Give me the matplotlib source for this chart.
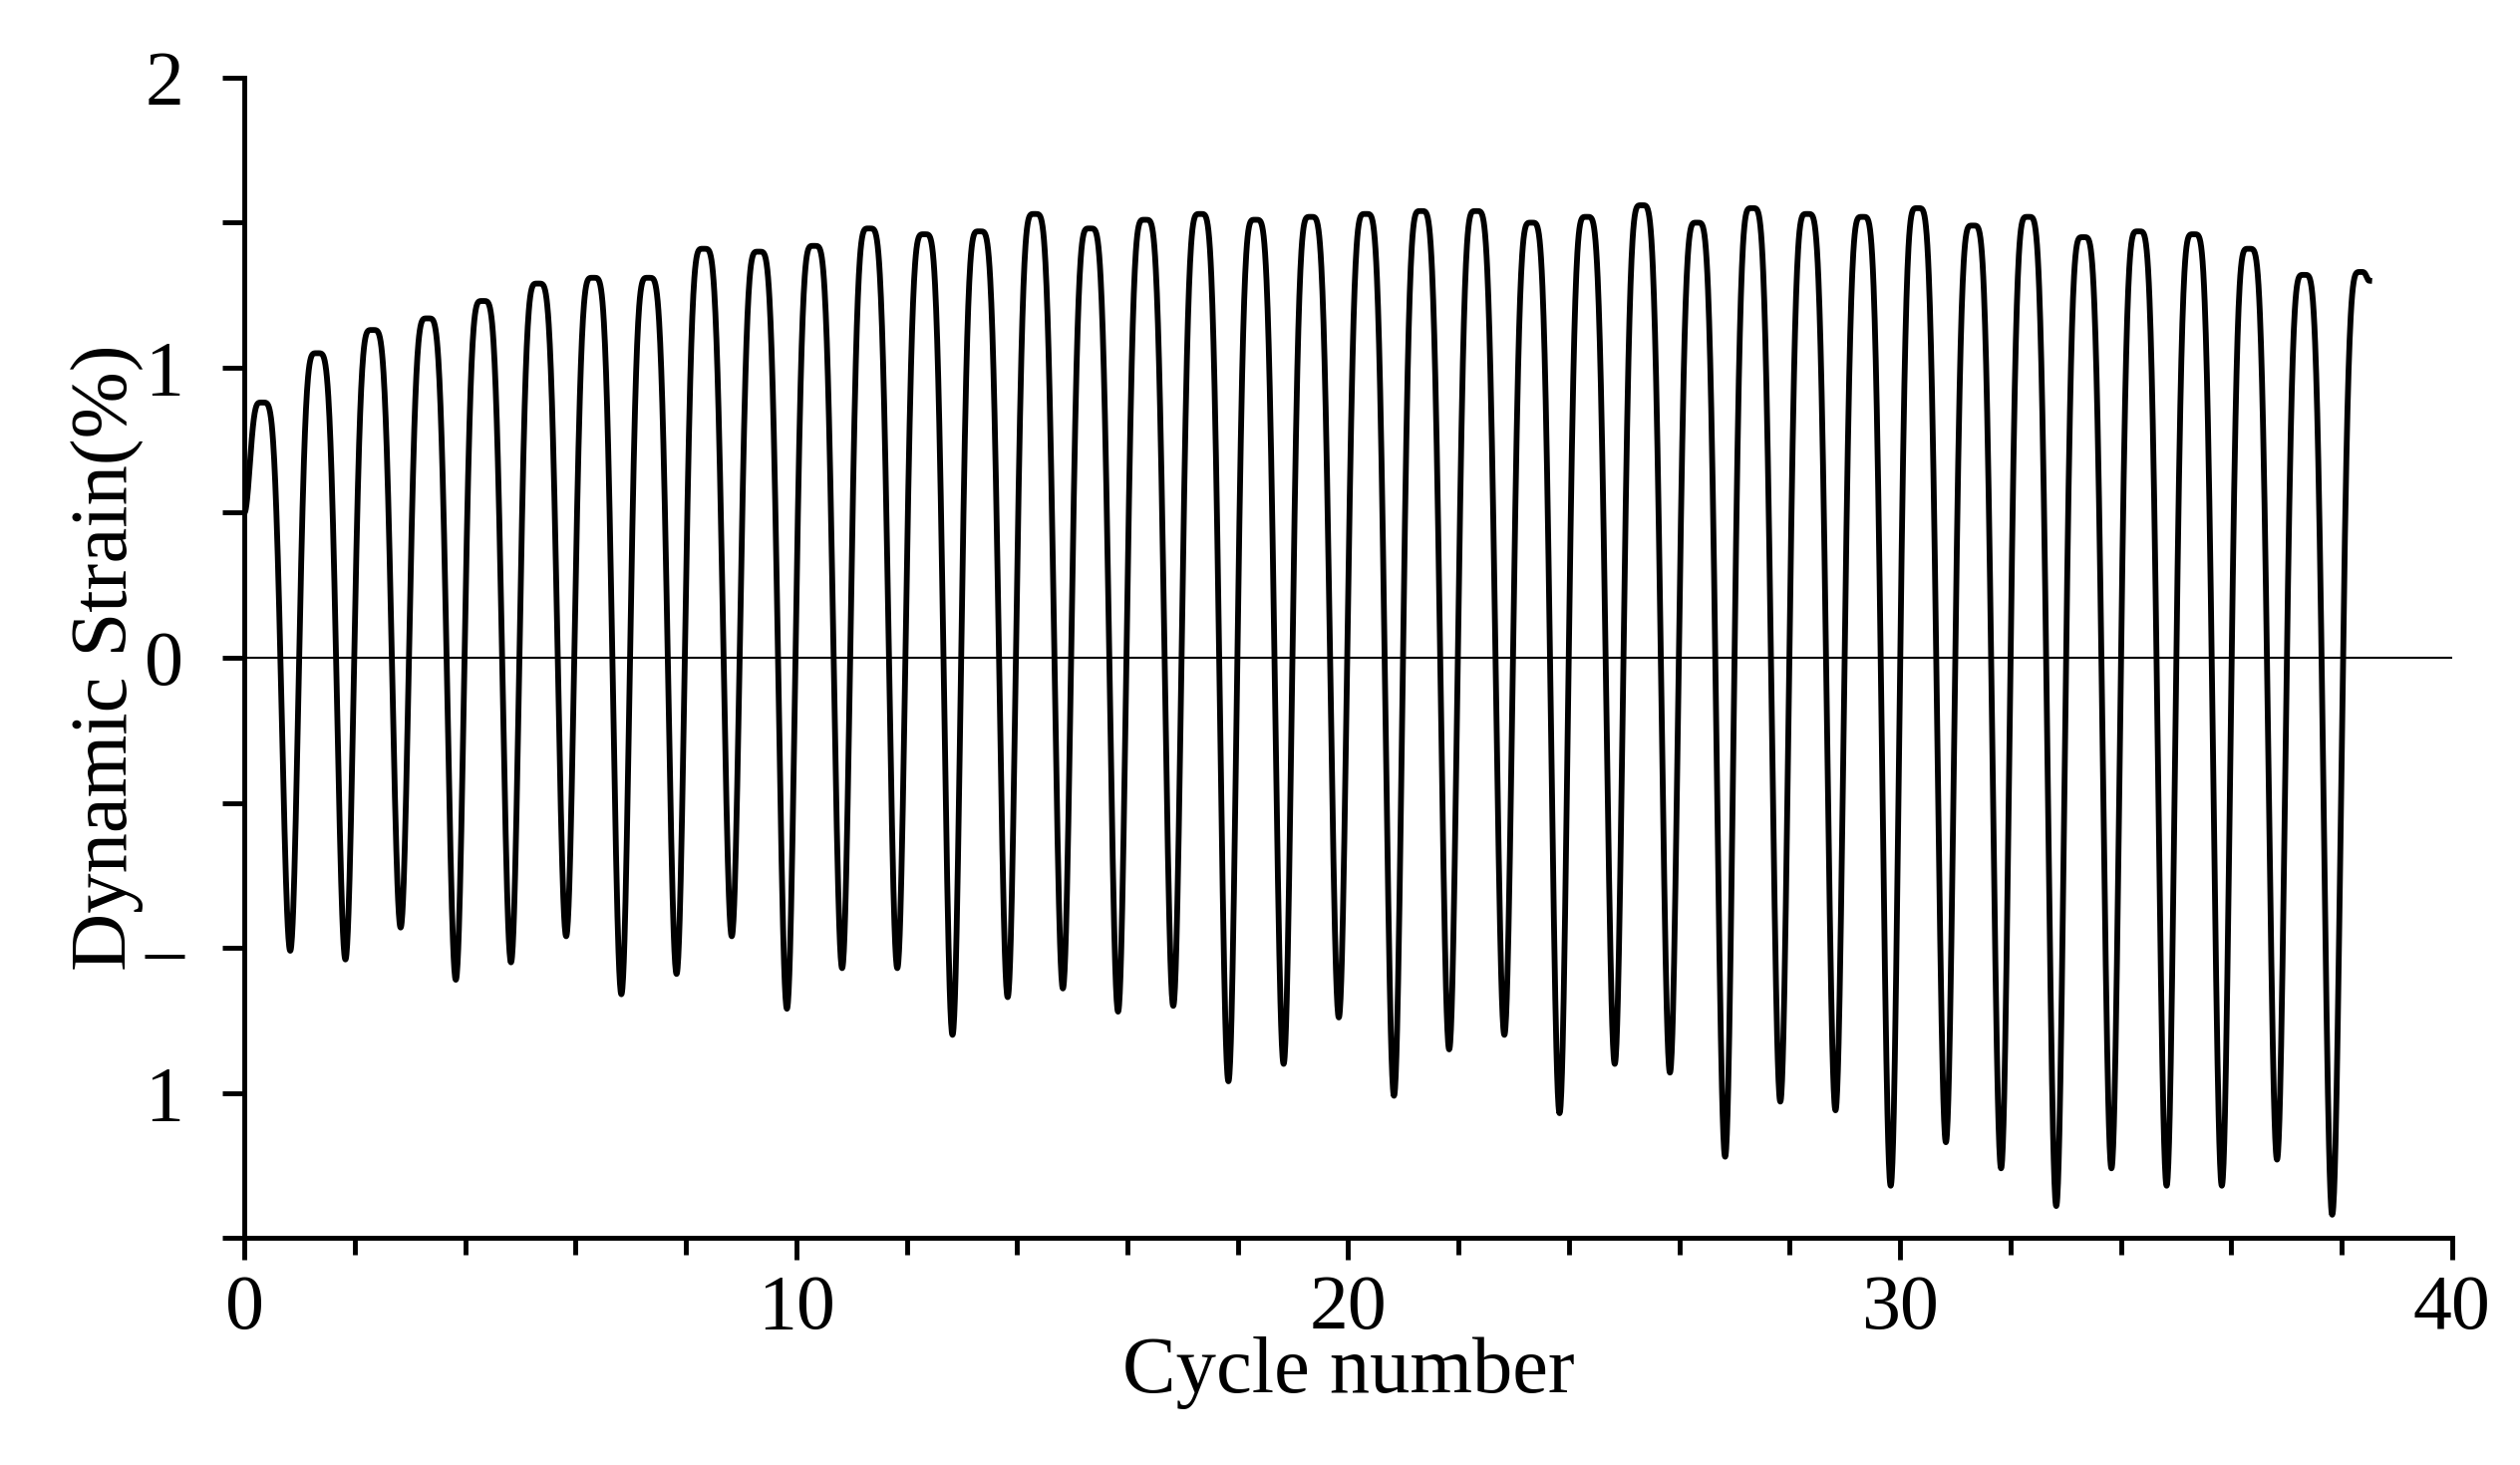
import numpy as np
import matplotlib.pyplot as plt

plt.rcParams['font.family'] = ['Liberation Serif', 'DejaVu Serif']

# values: one peak and one trough per cycle
peak_x = [i + 0.32 for i in range(38)]
peaks = [0.88, 1.05, 1.13, 1.17, 1.23, 1.29, 1.31, 1.31, 1.41, 1.40,
         1.42, 1.48, 1.46, 1.47, 1.53, 1.48, 1.51, 1.53, 1.51, 1.52,
         1.53, 1.54, 1.54, 1.50, 1.52, 1.56, 1.50, 1.55, 1.53, 1.52,
         1.55, 1.49, 1.52, 1.45, 1.47, 1.46, 1.41, 1.32]
trough_x = [i + 0.83 for i in range(38)]
troughs = [-1.01, -1.04, -0.93, -1.11, -1.05, -0.96, -1.16, -1.09, -0.96, -1.21,
           -1.07, -1.07, -1.30, -1.17, -1.14, -1.22, -1.20, -1.46, -1.40, -1.24,
           -1.51, -1.35, -1.30, -1.57, -1.40, -1.43, -1.72, -1.53, -1.56, -1.82,
           -1.67, -1.76, -1.89, -1.76, -1.82, -1.82, -1.73, -1.92]
start = (0.0, 0.50)
end_peak = (38.35, 1.33)
end = (38.5, 1.30)

# build the waveform between the read extremes (broad peaks, sharp troughs)
xs, ys = [], []
def seg(x0, y0, x1, y1, down):
    u = np.linspace(0, 1, 80)
    g = (1 - np.cos(np.pi * u)) / 2
    if down:
        y = y0 - (y0 - y1) * g ** 2.4
    else:
        y = y1 + (y0 - y1) * (1 - g) ** 2.4
    xs.extend(x0 + (x1 - x0) * u)
    ys.extend(y)

seg(start[0], start[1], peak_x[0], peaks[0], False)
for i in range(38):
    seg(peak_x[i], peaks[i], trough_x[i], troughs[i], True)
    if i + 1 < 38:
        seg(trough_x[i], troughs[i], peak_x[i + 1], peaks[i + 1], False)
seg(trough_x[-1], troughs[-1], end_peak[0], end_peak[1], False)
seg(end_peak[0], end_peak[1], end[0], end[1], True)

fig = plt.figure(figsize=(25.28, 14.7), dpi=100)
ax = fig.add_axes([0.097, 0.155, 0.876, 0.792])
ax.plot(xs, ys, color='black', lw=4.2)
ax.axhline(0, color='black', lw=1.5)
ax.set_xlim(0, 40)
ax.set_ylim(-2, 2)
ax.spines['top'].set_visible(False)
ax.spines['right'].set_visible(False)
for s in ['left', 'bottom']:
    ax.spines[s].set_linewidth(3.5)
ax.set_xticks([0, 10, 20, 30, 40])
ax.set_xticks(np.arange(2, 40, 2), minor=True)
ax.set_yticks([2, 1.5, 1, 0.5, 0, -0.5, -1, -1.5, -2])
ax.set_yticklabels(['2', '', '1', '', '0', '', '–', '1', ''])
ax.tick_params(axis='both', which='major', direction='out', length=16, width=3.5,
               labelsize=56)
ax.tick_params(axis='x', which='minor', direction='out', length=12, width=3.5)
ax.tick_params(axis='y', pad=28)
ax.tick_params(axis='x', pad=10)
ax.set_xlabel('Cycle number', fontsize=58, labelpad=-6)
ax.set_ylabel('Dynamic Strain(%)', fontsize=58, labelpad=0)
fig.savefig('out.png')
